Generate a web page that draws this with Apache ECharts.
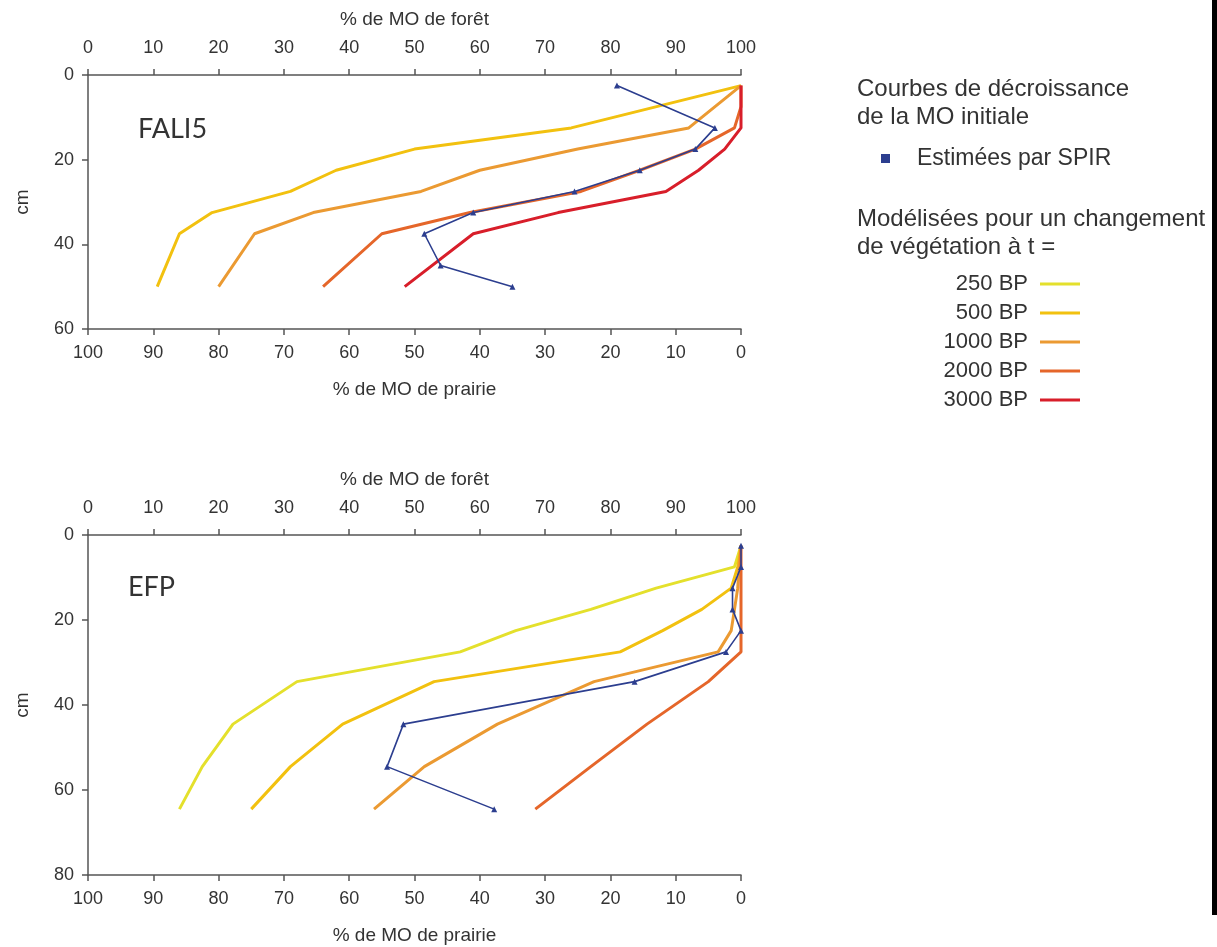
<!DOCTYPE html>
<html>
<head>
<meta charset="utf-8">
<script src="https://cdn.jsdelivr.net/npm/echarts@6/dist/echarts.min.js"></script>
<style>
html,body{margin:0;padding:0;background:#fff;}
#c{width:1217px;height:947px;}
</style>
</head>
<body>
<div id="c"></div>
<script>
// ---- Data (x = % de MO de forêt, y = depth in cm) ----
const forestTicks = [0,10,20,30,40,50,60,70,80,90,100];

// FALI5 (top panel)
const faliDepth  = [2.5, 7.5, 12.5, 17.5, 22.5, 27.5, 32.5, 37.5, 50];
const fali500    = [100, null, 74, 50, 38, 31, 19, 14, 10.6];
const fali1000   = [100, null, 92, 75, 60, 51, 34.5, 25.5, 20];
const fali2000   = [100, 100, 99, 93, 84.5, 75.5, 58.5, 45, 36];
const fali3000   = [100, 100, 100, 97.5, 93.5, 88.5, 72, 59, 48.5];
const faliSpirDepth = [2.5, 12.5, 17.5, 22.5, 27.5, 32.5, 37.5, 45, 50];
const faliSpir      = [81, 96, 93, 84.5, 74.5, 59, 51.5, 54, 65];

// EFP (bottom panel)
const efpDepth = [2.5, 7.5, 12.5, 17.5, 22.5, 27.5, 34.5, 44.5, 54.5, 64.5];
const efp250   = [100, 99, 87, 77, 65.5, 57, 32, 22.2, 17.5, 14];
const efp500   = [100, 99.5, 98.5, 94, 88, 81.5, 53, 39, 31, 25];
const efp1000  = [100, 99.7, 99.5, 99, 98.5, 96.5, 77.5, 62.7, 51.5, 43.8];
const efp2000  = [100, 100, 100, 100, 100, 100, 95, 85.6, 77, 68.5];
const efpSpir  = [100, 100, 98.7, 98.7, 100, 97.7, 83.7, 48.3, 45.8, 62.2];

const modelNames = ['250 BP','500 BP','1000 BP','2000 BP','3000 BP'];
const colors = {
  '250 BP':'#e4e02c', '500 BP':'#f2c10f', '1000 BP':'#eb9a32',
  '2000 BP':'#e5662a', '3000 BP':'#d81e2a', 'spir':'#2c3e8f'
};

function pairs(depths, vals){ return depths.map((d,i)=>[vals[i], d]); }

const FONT = 'Liberation Sans, Arial, sans-serif';
const axisColor = '#555';
const txt = '#333';

function xAxisTop(grid){
  return {
    gridIndex: grid, type:'value', position:'top', min:0, max:100, interval:10,
    name:'% de MO de forêt', nameLocation:'middle', nameGap:46,
    nameTextStyle:{fontSize:19, color:txt, fontFamily:FONT},
    axisLine:{show:true, lineStyle:{color:axisColor, width:1.5}},
    axisTick:{show:true, length:6, lineStyle:{color:axisColor, width:1.5}},
    axisLabel:{fontSize:18, color:txt, fontFamily:FONT, margin:18},
    splitLine:{show:false}
  };
}
function xAxisBottom(grid){
  return {
    gridIndex: grid, type:'value', position:'bottom', inverse:true, min:0, max:100, interval:10,
    name:'% de MO de prairie', nameLocation:'middle', nameGap:51,
    nameTextStyle:{fontSize:19, color:txt, fontFamily:FONT},
    axisLine:{show:true, lineStyle:{color:axisColor, width:1.5}},
    axisTick:{show:true, length:6, lineStyle:{color:axisColor, width:1.5}},
    axisLabel:{fontSize:18, color:txt, fontFamily:FONT, margin:15},
    splitLine:{show:false}
  };
}
function yAxis(grid, max){
  return {
    gridIndex: grid, type:'value', inverse:true, min:0, max:max, interval:20,
    name:'cm', nameLocation:'middle', nameGap:56, nameRotate:90,
    nameTextStyle:{fontSize:19, color:txt, fontFamily:FONT},
    axisLine:{show:true, lineStyle:{color:axisColor, width:1.5}},
    axisTick:{show:true, length:6, lineStyle:{color:axisColor, width:1.5}},
    axisLabel:{fontSize:18, color:txt, fontFamily:FONT, margin:14},
    splitLine:{show:false}
  };
}

function model(name, xi, yi, depths, vals){
  return {
    name:name, type:'line', xAxisIndex:xi, yAxisIndex:yi,
    data:pairs(depths, vals), connectNulls:true, symbol:'none',
    lineStyle:{width:3, color:colors[name]}, itemStyle:{color:colors[name]},
    z:2, animation:false
  };
}
function spir(xi, yi, depths, vals){
  return {
    name:'Estimées par SPIR', type:'line', xAxisIndex:xi, yAxisIndex:yi,
    data:pairs(depths, vals), symbol:'triangle', symbolSize:6, showSymbol:true,
    lineStyle:{width:1.6, color:colors.spir}, itemStyle:{color:colors.spir},
    z:3, animation:false
  };
}

const option = {
  backgroundColor:'#fff',
  animation:false,
  grid:[
    {left:88, top:75, width:653, height:254},
    {left:88, top:535, width:653, height:340}
  ],
  xAxis:[ xAxisTop(0), xAxisBottom(0), xAxisTop(1), xAxisBottom(1) ],
  yAxis:[ yAxis(0, 60), yAxis(1, 80) ],
  title:[
    {text:'FALI5', left:133, top:111, textStyle:{fontSize:27, fontWeight:'normal', color:'#333', fontFamily:'Lato, Open Sans, sans-serif'}},
    {text:'EFP', left:123, top:569, textStyle:{fontSize:27, fontWeight:'normal', color:'#333', fontFamily:'Lato, Open Sans, sans-serif'}},
    {text:'Courbes de décroissance\nde la MO initiale', left:852, top:70,
     textStyle:{fontSize:24, lineHeight:28, fontWeight:'normal', color:txt, fontFamily:FONT}},
    {text:'Modélisées pour un changement\nde végétation à t =', left:852, top:200,
     textStyle:{fontSize:24, lineHeight:28, fontWeight:'normal', color:txt, fontFamily:FONT}}
  ],
  legend:[
    {
      data:[{name:'Estimées par SPIR', icon:'rect'}],
      left:876, top:142, itemWidth:9, itemHeight:9, itemGap:10,
      textStyle:{fontSize:23, color:txt, fontFamily:FONT, padding:[0,0,0,22]},
      selectedMode:false
    },
    {
      data:modelNames.map(n=>({name:n, icon:'rect'})), orient:'vertical', align:'right',
      left:923, top:268, itemWidth:40, itemHeight:3, itemGap:7,
      textStyle:{fontSize:22, color:txt, fontFamily:FONT, width:100, align:'right', lineHeight:20, padding:[0,7,0,0]},
      selectedMode:false
    }
  ],
  graphic:[
    {type:'rect', left:1212, top:0, z:100, shape:{width:5, height:915}, style:{fill:'#000'}}
  ],
  series:[
    model('500 BP', 0, 0, faliDepth, fali500),
    model('1000 BP', 0, 0, faliDepth, fali1000),
    model('2000 BP', 0, 0, faliDepth, fali2000),
    model('3000 BP', 0, 0, faliDepth, fali3000),
    spir(0, 0, faliSpirDepth, faliSpir),
    model('250 BP', 2, 1, efpDepth, efp250),
    model('500 BP', 2, 1, efpDepth, efp500),
    model('1000 BP', 2, 1, efpDepth, efp1000),
    model('2000 BP', 2, 1, efpDepth, efp2000),
    spir(2, 1, efpDepth, efpSpir)
  ]
};

const chart = echarts.init(document.getElementById('c'), null, {renderer:'canvas'});
chart.setOption(option);
</script>
</body>
</html>
